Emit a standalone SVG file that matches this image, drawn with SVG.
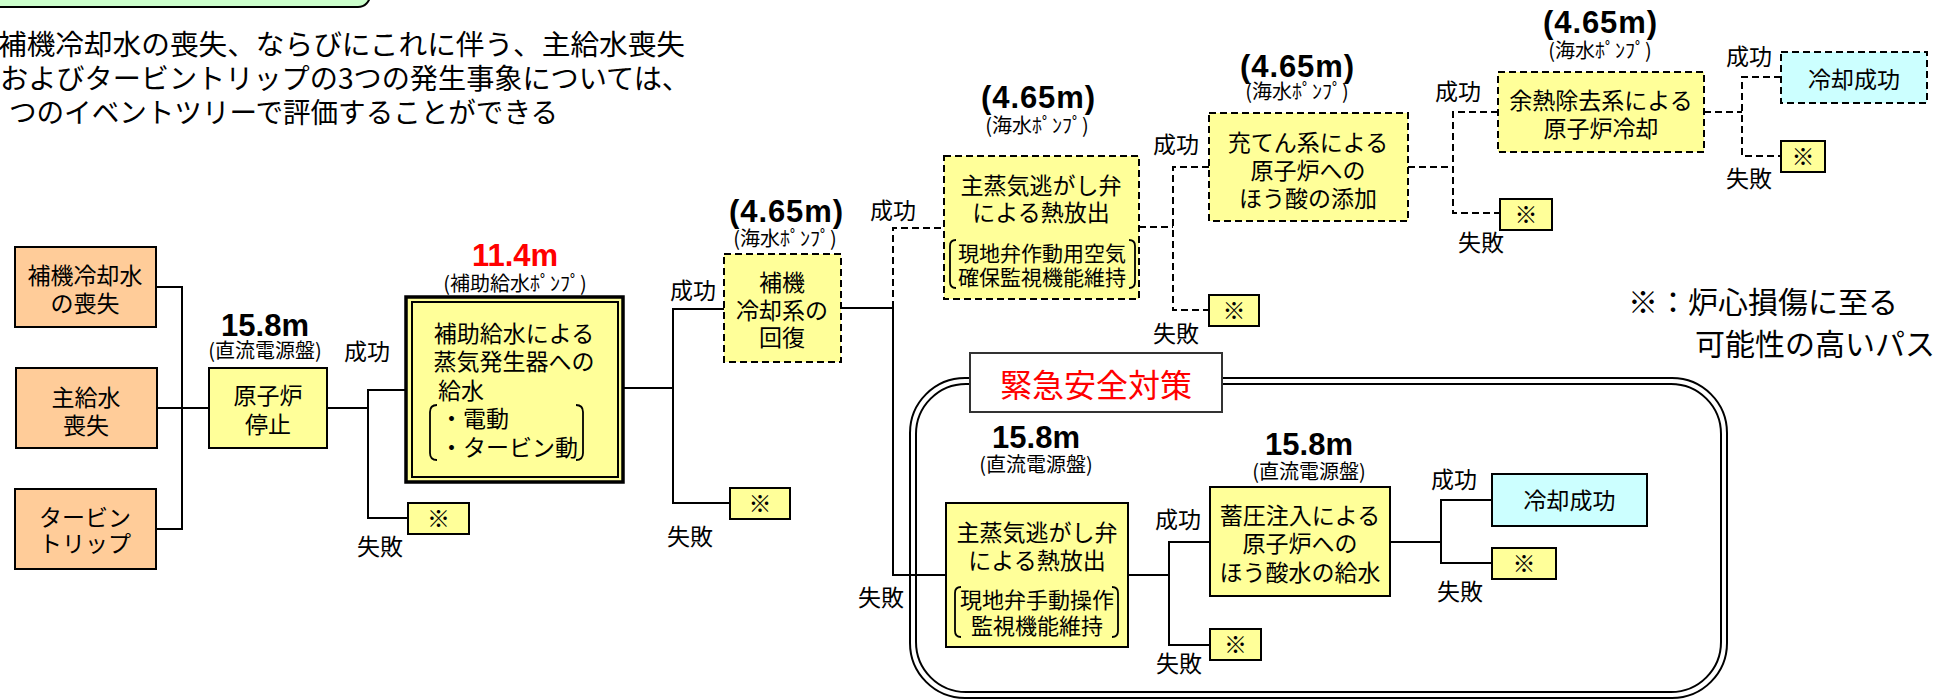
<svg xmlns="http://www.w3.org/2000/svg" width="1959" height="700" viewBox="0 0 1959 700">
<style>
.t{font-family:"Noto Sans CJK JP","Noto Sans CJK SC",sans-serif;font-size:23px;fill:#000;text-anchor:middle}
.tl{font-family:"Noto Sans CJK JP","Noto Sans CJK SC",sans-serif;font-size:23px;fill:#000}
.s{font-family:"Noto Sans CJK JP","Noto Sans CJK SC",sans-serif;font-size:20px;fill:#000;text-anchor:middle}
.b{font-family:"Noto Sans CJK JP","Noto Sans CJK SC",sans-serif;font-size:21px;fill:#000;text-anchor:middle}
.num{font-family:"Liberation Sans",Arial,sans-serif;font-weight:bold;font-size:31px;fill:#000;text-anchor:middle}
.hd{font-family:"Noto Sans CJK JP","Noto Sans CJK SC",sans-serif;font-size:28px;fill:#000}
.nt{font-family:"Noto Sans CJK JP","Noto Sans CJK SC",sans-serif;font-size:30px;fill:#000}
.y{fill:#FFFF99;stroke:#000;stroke-width:2}
.yd{fill:#FFFF99;stroke:#000;stroke-width:2;stroke-dasharray:7 4}
.o{fill:#FFCC99;stroke:#000;stroke-width:2}
.c{fill:#CCFFFF;stroke:#000;stroke-width:2}
.cd{fill:#CCFFFF;stroke:#000;stroke-width:2;stroke-dasharray:7 4}
.ln{fill:none;stroke:#000;stroke-width:2}
.dl{fill:none;stroke:#000;stroke-width:2;stroke-dasharray:7 4}
.br{fill:none;stroke:#000;stroke-width:1.8}
</style>
<rect width="1959" height="700" fill="#fff"/>

<g id="header">
<rect x="-20" y="-30" width="390" height="37" rx="12" fill="#CCFFCC" stroke="#000" stroke-width="2"/>
<text class="hd" x="-2" y="55" textLength="687" lengthAdjust="spacingAndGlyphs">補機冷却水の喪失、ならびにこれに伴う、主給水喪失</text>
<text class="hd" x="0" y="89" textLength="690" lengthAdjust="spacingAndGlyphs">およびタービントリップの3つの発生事象については、</text>
<text class="hd" x="9" y="123" textLength="549" lengthAdjust="spacingAndGlyphs">つのイベントツリーで評価することができる</text>
</g>

<g id="note">
<text class="nt" x="1628" y="313">※：炉心損傷に至る</text>
<text class="nt" x="1695" y="355">可能性の高いパス</text>
</g>

<g id="emergency">
<rect x="910" y="378" width="817" height="320" rx="55" fill="none" stroke="#000" stroke-width="2"/>
<rect x="916" y="384" width="805" height="308" rx="50" fill="none" stroke="#000" stroke-width="2"/>
<rect x="970" y="353" width="252" height="59" fill="#fff" stroke="#333" stroke-width="2"/>
<text class="t" x="1096" y="397" style="font-size:32px;fill:#FF0000">緊急安全対策</text>
</g>

<g id="connectors">
<path class="ln" d="M156,287 H182 V529 H156 M157,408 H209"/>
<path class="ln" d="M327,408 H368 M406,390 H368 V518 H408"/>
<path class="ln" d="M623,388 H673 M724,309 H673 V503 H730"/>
<path class="ln" d="M841,308 H893 V575 H946"/>
<path class="dl" d="M893,308 V228 H944"/>
<path class="dl" d="M1139,227 H1173 M1209,167 H1173 V310 H1209"/>
<path class="dl" d="M1408,167 H1453 M1498,112 H1453 V213 H1500"/>
<path class="dl" d="M1704,112 H1742 M1781,77 H1742 V156 H1781"/>
<path class="ln" d="M1128,575 H1169 M1210,542 H1169 V645 H1210"/>
<path class="ln" d="M1390,542 H1441 M1492,500 H1441 V563 H1492"/>
</g>

<g id="ev1">
<rect class="o" x="15" y="247" width="141" height="80"/>
<text class="t" x="85" y="284">補機冷却水</text>
<text class="t" x="85" y="312">の喪失</text>
</g>
<g id="ev2">
<rect class="o" x="16" y="368" width="141" height="80"/>
<text class="t" x="86" y="406">主給水</text>
<text class="t" x="86" y="434">喪失</text>
</g>
<g id="ev3">
<rect class="o" x="15" y="489" width="141" height="80"/>
<text class="t" x="85" y="526">タービン</text>
<text class="t" x="85" y="552">トリップ</text>
</g>

<g id="reactor-trip">
<text class="num" x="265" y="336">15.8m</text>
<text class="s" x="265" y="358">(直流電源盤)</text>
<rect class="y" x="209" y="368" width="118" height="80"/>
<text class="t" x="268" y="404">原子炉</text>
<text class="t" x="268" y="433">停止</text>
<text class="t" x="367" y="360">成功</text>
<text class="t" x="380" y="555">失敗</text>
</g>
<g id="f1">
<rect class="y" x="408" y="503" width="61" height="31"/>
<text class="t" x="438.5" y="527">※</text>
</g>

<g id="afw">
<text class="num" x="515" y="266" style="fill:#FF0000">11.4m</text>
<text class="s" x="515" y="291">(補助給水ﾎﾟﾝﾌﾟ)</text>
<rect x="406" y="297" width="217" height="185" fill="#FFFF99" stroke="#000" stroke-width="3.5"/>
<rect x="412" y="302" width="206" height="175" fill="none" stroke="#000" stroke-width="2"/>
<text class="t" x="514" y="342">補助給水による</text>
<text class="t" x="514" y="370">蒸気発生器への</text>
<text class="tl" x="438" y="399">給水</text>
<text class="tl" x="440" y="427">・電動</text>
<text class="tl" x="440" y="456">・タービン動</text>
<path class="br" d="M437,405 Q430,405 430,412 V453 Q430,460 437,460 M576,405 Q583,405 583,412 V453 Q583,460 576,460"/>
<text class="t" x="693" y="299">成功</text>
<text class="t" x="690" y="545">失敗</text>
</g>
<g id="f2">
<rect class="y" x="730" y="488" width="60" height="31"/>
<text class="t" x="760" y="512">※</text>
</g>

<g id="ccw-recovery">
<text class="num" x="786" y="222" textLength="114" lengthAdjust="spacing">(4.65m)</text>
<text class="s" x="785" y="246">(海水ﾎﾟﾝﾌﾟ)</text>
<rect class="yd" x="724" y="254" width="117" height="108"/>
<text class="t" x="782" y="291">補機</text>
<text class="t" x="782" y="319">冷却系の</text>
<text class="t" x="782" y="346">回復</text>
<text class="t" x="893" y="219">成功</text>
</g>

<g id="msrv-upper">
<text class="num" x="1038" y="108" textLength="114" lengthAdjust="spacing">(4.65m)</text>
<text class="s" x="1037" y="133">(海水ﾎﾟﾝﾌﾟ)</text>
<rect class="yd" x="944" y="156" width="195" height="143"/>
<text class="t" x="1041" y="194">主蒸気逃がし弁</text>
<text class="t" x="1041" y="221">による熱放出</text>
<text class="b" x="1042" y="261">現地弁作動用空気</text>
<text class="b" x="1042" y="285">確保監視機能維持</text>
<path class="br" d="M956,240 Q950,240 950,246 V282 Q950,288 956,288 M1129,240 Q1135,240 1135,246 V282 Q1135,288 1129,288"/>
<text class="t" x="1176" y="153">成功</text>
<text class="t" x="1176" y="342">失敗</text>
</g>
<g id="f3">
<rect class="y" x="1209" y="295" width="50" height="31"/>
<text class="t" x="1234" y="319">※</text>
</g>

<g id="charging">
<text class="num" x="1297" y="77" textLength="114" lengthAdjust="spacing">(4.65m)</text>
<text class="s" x="1297" y="99">(海水ﾎﾟﾝﾌﾟ)</text>
<rect class="yd" x="1209" y="113" width="199" height="108"/>
<text class="t" x="1308" y="151">充てん系による</text>
<text class="t" x="1308" y="179">原子炉への</text>
<text class="t" x="1308" y="207">ほう酸の添加</text>
<text class="t" x="1458" y="100">成功</text>
<text class="t" x="1481" y="251">失敗</text>
</g>
<g id="f4">
<rect class="y" x="1500" y="199" width="52" height="31"/>
<text class="t" x="1526" y="223">※</text>
</g>

<g id="rhr">
<text class="num" x="1600" y="33" textLength="114" lengthAdjust="spacing">(4.65m)</text>
<text class="s" x="1600" y="58">(海水ﾎﾟﾝﾌﾟ)</text>
<rect class="yd" x="1498" y="72" width="206" height="80"/>
<text class="t" x="1601" y="109">余熱除去系による</text>
<text class="t" x="1601" y="137">原子炉冷却</text>
<text class="t" x="1749" y="65">成功</text>
<text class="t" x="1749" y="187">失敗</text>
</g>
<g id="ok1">
<rect class="cd" x="1781" y="52" width="146" height="51"/>
<text class="t" x="1854" y="88">冷却成功</text>
</g>
<g id="f5">
<rect class="y" x="1781" y="141" width="44" height="31"/>
<text class="t" x="1803" y="165">※</text>
</g>

<g id="msrv-lower">
<text class="num" x="1036" y="448">15.8m</text>
<text class="s" x="1036" y="472">(直流電源盤)</text>
<rect class="y" x="946" y="503" width="182" height="144"/>
<text class="t" x="1037" y="541">主蒸気逃がし弁</text>
<text class="t" x="1037" y="569">による熱放出</text>
<text class="t" x="1037" y="608" style="font-size:22px">現地弁手動操作</text>
<text class="t" x="1037" y="634" style="font-size:22px">監視機能維持</text>
<path class="br" d="M961,587 Q955,587 955,593 V631 Q955,637 961,637 M1112,587 Q1118,587 1118,593 V631 Q1118,637 1112,637"/>
<text class="t" x="881" y="606">失敗</text>
<text class="t" x="1178" y="528">成功</text>
<text class="t" x="1179" y="672">失敗</text>
</g>
<g id="f6">
<rect class="y" x="1210" y="629" width="51" height="31"/>
<text class="t" x="1235.5" y="653">※</text>
</g>

<g id="accumulator">
<text class="num" x="1309" y="455">15.8m</text>
<text class="s" x="1309" y="479">(直流電源盤)</text>
<rect class="y" x="1210" y="487" width="180" height="109"/>
<text class="t" x="1300" y="524">蓄圧注入による</text>
<text class="t" x="1300" y="552">原子炉への</text>
<text class="t" x="1300" y="581">ほう酸水の給水</text>
<text class="t" x="1454" y="488">成功</text>
<text class="t" x="1460" y="600">失敗</text>
</g>
<g id="ok2">
<rect class="c" x="1492" y="474" width="155" height="52"/>
<text class="t" x="1569.5" y="509">冷却成功</text>
</g>
<g id="f7">
<rect class="y" x="1492" y="548" width="64" height="31"/>
<text class="t" x="1524" y="572">※</text>
</g>
</svg>
